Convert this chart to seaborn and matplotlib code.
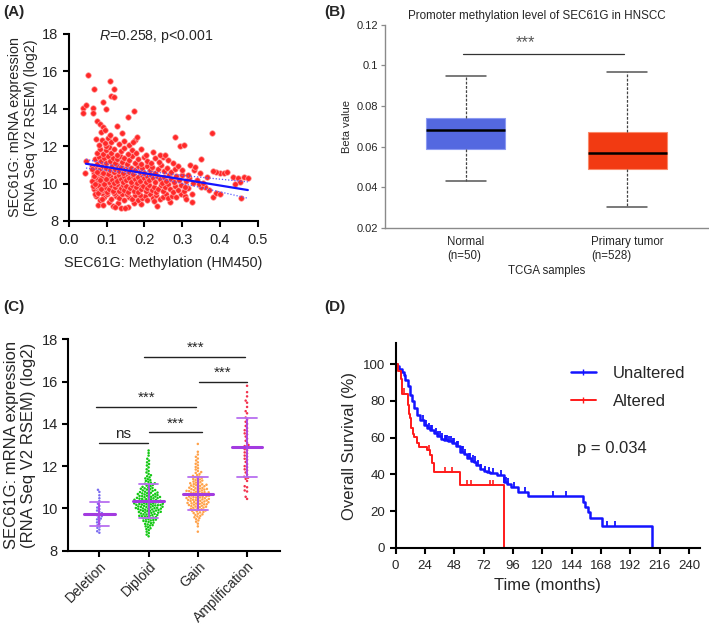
import numpy as np
import pandas as pd
import matplotlib
matplotlib.use('Agg')
import matplotlib.pyplot as plt
from matplotlib.lines import Line2D
import seaborn as sns

# ---------------- (A) methylation vs mRNA expression ----------------
# points, band by band (low -> high expression)
meth_x = [
    0.078, 0.089, 0.106, 0.117, 0.130, 0.137, 0.156, 0.148, 0.233, 0.269, 0.172, 0.121, 0.325, 0.190,
    0.072, 0.083, 0.094, 0.101, 0.112, 0.124, 0.133, 0.141, 0.147, 0.158, 0.166, 0.175, 0.183, 0.194,
    0.202, 0.206, 0.214, 0.222, 0.231, 0.240, 0.248, 0.257, 0.263, 0.272, 0.284, 0.296, 0.307, 0.088,
    0.118, 0.153, 0.188, 0.226,
    0.066, 0.071, 0.076, 0.081, 0.086, 0.091, 0.096, 0.102, 0.107, 0.112, 0.117, 0.122, 0.127, 0.132,
    0.137, 0.142, 0.147, 0.152, 0.157, 0.162, 0.167, 0.172, 0.177, 0.182, 0.187, 0.192, 0.197, 0.203,
    0.208, 0.213, 0.219, 0.225, 0.231, 0.237, 0.243, 0.249, 0.255, 0.262, 0.268, 0.275, 0.282, 0.290,
    0.298, 0.306, 0.316,
    0.065, 0.069, 0.074, 0.078, 0.083, 0.088, 0.092, 0.097, 0.101, 0.106, 0.110, 0.115, 0.119, 0.124,
    0.128, 0.133, 0.137, 0.142, 0.146, 0.151, 0.156, 0.160, 0.165, 0.170, 0.174, 0.179, 0.184, 0.188,
    0.193, 0.198, 0.203, 0.208, 0.213, 0.218, 0.223, 0.228, 0.234, 0.240, 0.246, 0.252, 0.258, 0.264,
    0.270, 0.277, 0.284, 0.292, 0.300, 0.309, 0.318, 0.328,
    0.062, 0.068, 0.073, 0.078, 0.083, 0.088, 0.093, 0.098, 0.103, 0.108, 0.113, 0.118, 0.123, 0.128,
    0.133, 0.138, 0.143, 0.148, 0.153, 0.159, 0.164, 0.170, 0.176, 0.182, 0.188, 0.194, 0.200, 0.207,
    0.214, 0.221, 0.228, 0.236, 0.244, 0.252, 0.261, 0.270, 0.280, 0.290, 0.300, 0.043,
    0.068, 0.074, 0.080, 0.086, 0.092, 0.098, 0.104, 0.110, 0.116, 0.122, 0.128, 0.134, 0.140, 0.146,
    0.153, 0.160, 0.167, 0.175, 0.183, 0.191, 0.199, 0.208, 0.218, 0.228, 0.238, 0.250, 0.262, 0.275,
    0.045, 0.240, 0.255,
    0.075, 0.083, 0.090, 0.097, 0.105, 0.112, 0.120, 0.128, 0.137, 0.146, 0.156, 0.166, 0.178, 0.190,
    0.205, 0.222, 0.098,
    0.080, 0.087, 0.095, 0.103, 0.112, 0.122, 0.133, 0.145, 0.160, 0.175, 0.170, 0.071,
    0.051, 0.108, 0.066, 0.119, 0.111, 0.120, 0.091, 0.038, 0.045, 0.063, 0.099, 0.172, 0.036, 0.064,
    0.157, 0.073, 0.126, 0.082, 0.091, 0.085, 0.280, 0.380, 0.294, 0.305, 0.351, 0.179, 0.095, 0.110,
    0.140,
    0.400, 0.410, 0.390, 0.382, 0.420, 0.435, 0.448, 0.452, 0.465, 0.474, 0.457, 0.382, 0.390, 0.400,
    0.370, 0.360, 0.350, 0.340, 0.365, 0.347, 0.316, 0.307, 0.330, 0.320, 0.335, 0.345, 0.325, 0.310,
    0.355, 0.440,
    0.061, 0.064, 0.067, 0.070, 0.073, 0.076, 0.079, 0.082, 0.085, 0.088, 0.062, 0.066, 0.070, 0.074,
    0.078, 0.082, 0.086, 0.090, 0.094, 0.098,
]
mrna_y = [
    8.86, 8.86, 8.99, 8.81, 8.95, 8.68, 8.77, 8.72, 8.82, 9.03, 8.98, 8.74, 9.00, 8.93,
    9.35, 9.12, 9.28, 9.42, 9.15, 9.33, 9.21, 9.45, 9.12, 9.30, 9.19, 9.40, 9.10, 9.21,
    9.36, 9.12, 9.44, 9.25, 9.38, 9.15, 9.30, 9.45, 9.22, 9.35, 9.28, 9.42, 9.35, 9.47,
    9.48, 9.46, 9.38, 9.08,
    9.72, 9.88, 9.60, 9.78, 9.95, 9.65, 9.83, 9.55, 9.72, 9.90, 9.62, 9.80, 9.97, 9.58,
    9.75, 9.90, 9.66, 9.85, 9.53, 9.74, 9.92, 9.62, 9.80, 9.55, 9.95, 9.70, 9.86, 9.58,
    9.78, 9.94, 9.66, 9.84, 9.55, 9.73, 9.92, 9.62, 9.80, 9.96, 9.70, 9.56, 9.85, 9.68,
    9.90, 9.60, 9.78,
    10.35, 10.12, 10.45, 10.25, 10.05, 10.38, 10.18, 10.48, 10.28, 10.08, 10.40, 10.20, 10.02, 10.33,
    10.15, 10.46, 10.26, 10.06, 10.38, 10.18, 10.48, 10.30, 10.10, 10.42, 10.22, 10.03, 10.35, 10.15,
    10.45, 10.27, 10.08, 10.39, 10.19, 10.47, 10.30, 10.10, 10.40, 10.22, 10.05, 10.36, 10.16, 10.44,
    10.26, 10.08, 10.38, 10.20, 10.45, 10.12, 10.30, 10.05,
    10.95, 10.65, 10.85, 10.55, 10.75, 10.95, 10.62, 10.82, 10.52, 10.72, 10.92, 10.60, 10.80, 10.98,
    10.66, 10.86, 10.55, 10.75, 10.94, 10.64, 10.84, 10.53, 10.73, 10.92, 10.62, 10.82, 10.55, 10.96,
    10.70, 10.88, 10.58, 10.78, 10.97, 10.65, 10.85, 10.60, 10.80, 10.95, 10.70, 10.54,
    11.30, 11.05, 11.42, 11.18, 11.35, 11.08, 11.45, 11.22, 11.38, 11.10, 11.30, 11.48, 11.15, 11.35,
    11.05, 11.25, 11.45, 11.12, 11.32, 11.06, 11.40, 11.20, 11.08, 11.35, 11.15, 11.42, 11.25, 11.10,
    11.23, 11.52, 11.50,
    11.65, 11.85, 11.58, 11.78, 11.95, 11.62, 11.82, 11.55, 11.72, 11.92, 11.60, 11.80, 11.65, 11.85,
    11.55, 11.70, 12.00,
    12.05, 12.30, 12.15, 12.45, 12.20, 12.38, 12.10, 12.25, 12.05, 12.35, 12.23, 12.40,
    15.79, 15.47, 15.03, 15.06, 14.69, 14.64, 14.37, 14.01, 14.19, 14.01, 13.96, 13.87, 13.78, 13.75,
    13.57, 13.34, 13.07, 13.20, 13.03, 12.77, 12.50, 12.72, 12.00, 12.06, 11.29, 12.50, 12.85, 12.60,
    12.70,
    10.58, 10.58, 10.63, 10.69, 10.63, 10.37, 10.28, 10.10, 10.37, 10.31, 9.21, 9.30, 9.48, 9.44,
    9.65, 9.80, 9.83, 10.19, 10.37, 10.54, 10.46, 9.83, 10.70, 11.00, 10.90, 9.95, 9.45, 9.20,
    10.05, 10.00,
    10.15, 9.85, 10.55, 9.45, 10.05, 9.90, 10.70, 9.62, 10.30, 9.15, 10.80, 10.42, 9.98, 10.62,
    9.50, 10.20, 9.70, 10.58, 9.95, 10.25,
]

# ---------------- (B) promoter methylation (min, Q1, median, Q3, max) ----------------
box_labels = ['Normal\n(n=50)', 'Primary tumor\n(n=528)']
normal_beta = [0.0432, 0.0589, 0.0681, 0.0740, 0.0949]
tumor_beta = [0.0302, 0.0490, 0.0571, 0.0671, 0.0968]

# ---------------- (C) expression by copy number ----------------
cna_groups = ['Deletion', 'Diploid', 'Gain', 'Amplification']
deletion_expr = [8.85, 8.92, 9.00, 9.08, 9.14, 9.20, 9.28, 9.34, 9.42, 9.48, 9.52, 9.58, 9.63, 9.68,
                 9.72, 9.78, 9.84, 9.90, 9.97, 10.04, 10.12, 10.22, 10.35, 10.48, 10.62, 10.78, 10.88]
diploid_expr = [8.68, 8.76, 8.83, 8.90, 8.97, 9.02, 9.06, 9.11, 9.15, 9.19,
                9.21, 9.24, 9.27, 9.30, 9.33, 9.36, 9.39,
                9.41, 9.43, 9.45, 9.47, 9.49, 9.51, 9.53, 9.55, 9.57, 9.59,
                9.60, 9.62, 9.63, 9.65, 9.66, 9.68, 9.69, 9.71, 9.72, 9.74, 9.76, 9.77, 9.79,
                9.80, 9.81, 9.83, 9.84, 9.85, 9.87, 9.88, 9.89, 9.90, 9.92, 9.93, 9.94, 9.95, 9.97, 9.98, 9.99,
                10.00, 10.01, 10.02, 10.03, 10.05, 10.06, 10.07, 10.08, 10.09, 10.11, 10.12, 10.13, 10.14,
                10.15, 10.16, 10.17, 10.18, 10.19,
                10.20, 10.21, 10.22, 10.23, 10.24, 10.25, 10.26, 10.28, 10.29, 10.30, 10.31, 10.32, 10.33,
                10.34, 10.35, 10.36, 10.37, 10.39,
                10.40, 10.41, 10.43, 10.44, 10.45, 10.46, 10.48, 10.49, 10.50, 10.51, 10.53, 10.54, 10.55,
                10.56, 10.58, 10.59,
                10.60, 10.62, 10.63, 10.65, 10.66, 10.68, 10.69, 10.71, 10.72, 10.74, 10.75, 10.77, 10.79,
                10.81, 10.83, 10.85, 10.87, 10.89, 10.91, 10.93, 10.95, 10.97, 10.99,
                11.02, 11.05, 11.08, 11.11, 11.14, 11.17, 11.19, 11.22, 11.26, 11.30, 11.34, 11.38,
                11.42, 11.47, 11.52, 11.57, 11.63, 11.70, 11.77, 11.85, 11.94,
                12.03, 12.10, 12.18, 12.26, 12.35, 12.50, 12.62, 12.74]
gain_expr = [8.90, 9.15, 9.28, 9.37, 9.43, 9.49, 9.54, 9.58, 9.62, 9.65, 9.69, 9.72, 9.75, 9.78,
             9.81, 9.83, 9.86, 9.88, 9.90, 9.92, 9.94, 9.96, 9.98,
             10.01, 10.03, 10.04, 10.06, 10.08, 10.09, 10.11, 10.13, 10.14, 10.16, 10.18, 10.19,
             10.20, 10.22, 10.23, 10.24, 10.26, 10.27, 10.29, 10.30, 10.32, 10.33, 10.35, 10.36, 10.38, 10.39,
             10.40, 10.41, 10.43, 10.44, 10.45, 10.47, 10.48, 10.49, 10.51, 10.52, 10.53, 10.55, 10.56,
             10.57, 10.59,
             10.60, 10.61, 10.63, 10.64, 10.65, 10.67, 10.68, 10.69, 10.71, 10.72, 10.73, 10.75, 10.76,
             10.77, 10.79,
             10.80, 10.82, 10.83, 10.85, 10.86, 10.88, 10.89, 10.91, 10.92, 10.94, 10.95, 10.97, 10.98,
             11.01, 11.03, 11.05, 11.07, 11.08, 11.10, 11.12, 11.14, 11.15, 11.17, 11.19,
             11.22, 11.24, 11.27, 11.29, 11.32, 11.34, 11.37, 11.39,
             11.42, 11.45, 11.48, 11.51, 11.54, 11.58, 11.63, 11.68, 11.72, 11.77,
             11.84, 11.90, 11.96, 12.04, 12.11, 12.18, 12.27, 12.36, 12.44, 12.55, 12.68, 13.05]
amp_expr = [10.45, 10.55, 10.80, 10.85, 11.00, 11.05, 11.30, 11.40, 11.45, 11.50, 11.60, 11.70,
            11.80, 11.85, 11.95, 12.00, 12.10, 12.20, 12.30, 12.35, 12.45, 12.50, 12.60, 12.65,
            12.75, 12.80, 12.90, 12.95, 13.00, 13.10, 13.20, 13.30, 13.40, 13.50, 13.55, 13.65,
            13.70, 13.80, 13.90, 14.00, 14.10, 14.20, 14.30, 14.50, 14.60, 14.80, 15.00, 15.10,
            15.30, 15.50, 15.80]
cna_colors = ['#7B6CF0', '#14C814', '#FFA24A', '#F2324E']

# ---------------- (D) Kaplan-Meier ----------------
unaltered_t = [0, 1.5, 3, 5, 6.6, 8, 10, 12, 13.5, 15, 17.5, 20, 23, 26, 28, 31, 34, 37, 39.3, 43,
               46, 49, 53, 56, 58.4, 62, 64, 66, 69, 72, 75, 77.6, 83, 88.5, 91, 94.7, 100, 108,
               153, 154.8, 157.6, 159, 168.5, 209.4]
unaltered_s = [100, 99, 97.5, 95.5, 94, 91.5, 88, 83, 80, 76, 72.3, 69.5, 67, 65, 64, 62.3, 61, 59.5,
               58.7, 58, 57, 55.5, 52.4, 51, 48.7, 47.5, 47, 45, 43, 42, 41.2, 40.6, 39.7, 36, 35,
               33, 30.6, 28.4, 25, 22.4, 19.8, 16.2, 12, 0]
unaltered_cens = [22, 25, 27, 29, 30, 33, 35, 36, 38, 40, 41, 42, 44, 45, 47, 48, 50, 51, 54, 55,
                  57, 60, 61, 63, 65, 67, 70, 73, 76, 80, 86, 89, 90, 92, 97, 105.7, 128.9, 139,
                  172.6, 179.4]
altered_t = [0, 2, 4, 5.2, 9.8, 11, 11.5, 12.6, 14, 14.8, 17.5, 18.8, 25.7, 28.4, 29.7, 31.7, 53, 89]
altered_s = [100, 96, 92, 84, 77.7, 73, 70.5, 65, 62, 60.5, 56.9, 55, 53.3, 50.5, 46, 41.2, 34.2, 0]
altered_cens = [7, 27, 40.7, 46.2, 58.4, 61.7, 77.6, 79.7]


def surv_at(t, times, surv):
    i = np.searchsorted(times, t, side='right') - 1
    return surv[i]


def prism_axes(ax, lw=1.5):
    sns.despine(ax=ax)
    for s in ['left', 'bottom']:
        ax.spines[s].set_linewidth(lw)
        ax.spines[s].set_color('black')
    ax.tick_params(direction='out', length=4, width=lw, color='black')


sns.set_theme(style='ticks')
plt.rcParams['font.family'] = ['Liberation Sans', 'DejaVu Sans']
plt.rcParams['mathtext.fontset'] = 'custom'
plt.rcParams['mathtext.rm'] = 'Liberation Sans'
plt.rcParams['mathtext.it'] = 'Liberation Sans:italic'

fig = plt.figure(figsize=(7.09, 6.28), dpi=100)
axA = fig.add_axes([0.0973, 0.6481, 0.2661, 0.2982])
axB = fig.add_axes([0.543, 0.637, 0.4556, 0.3237])
axC = fig.add_axes([0.0964, 0.1231, 0.2986, 0.3366])
axD = fig.add_axes([0.558, 0.1274, 0.4288, 0.3259])

# ---- A
sns.scatterplot(x=meth_x, y=mrna_y, s=16, color='#FF2828', edgecolor='#FFA0A0',
                linewidth=0.5, ax=axA, zorder=2)
xs = np.asarray(meth_x)
ys = np.asarray(mrna_y)
slope, inter = np.polyfit(xs, ys, 1)
n = len(xs)
resid = ys - (slope * xs + inter)
se = np.sqrt(np.sum(resid ** 2) / (n - 2))
xf = np.linspace(0.045, xs.max(), 100)
yf = slope * xf + inter
band = 1.97 * se * np.sqrt(1 / n + (xf - xs.mean()) ** 2 / np.sum((xs - xs.mean()) ** 2))
axA.plot(xf, yf, color='#1515FF', lw=1.6, zorder=3)
axA.plot(xf, yf + band, color='#5A5AFF', lw=0.9, ls=(0, (1, 1.5)), zorder=3)
axA.plot(xf, yf - band, color='#5A5AFF', lw=0.9, ls=(0, (1, 1.5)), zorder=3)
axA.set_xlim(0, 0.5)
axA.set_ylim(8, 18)
axA.set_xticks([0, 0.1, 0.2, 0.3, 0.4, 0.5])
axA.set_xticklabels(['0.0', '0.1', '0.2', '0.3', '0.4', '0.5'])
axA.set_yticks([8, 10, 12, 14, 16, 18])
prism_axes(axA)
axA.tick_params(labelsize=10.5)
axA.tick_params(axis='x', pad=5)
axA.set_xlabel('SEC61G: Methylation (HM450)', fontsize=10.4, labelpad=6)
axA.set_ylabel('SEC61G: mRNA expression\n(RNA Seq V2 RSEM) (log2)', fontsize=10.4, labelpad=3)
axA.text(0.231, 17.85, r'$\it{R}$=0.258, p<0.001', ha='center', va='center', fontsize=10.2)

# ---- B
box_df = pd.DataFrame({
    'group': [box_labels[0]] * len(normal_beta) + [box_labels[1]] * len(tumor_beta),
    'beta': normal_beta + tumor_beta,
})
sns.boxplot(data=box_df, x='group', y='beta', hue='group', order=box_labels,
            palette=['#5468E0', '#F23A12'], saturation=1, width=0.49, whis=(0, 100),
            showfliers=False, legend=False, ax=axB,
            medianprops=dict(color='black', lw=1.8),
            whiskerprops=dict(color='#444444', lw=0.9, ls=(0, (2.2, 1.2))),
            capprops=dict(color='#555555', lw=1.1))
for patch, ec in zip(axB.patches, ['#8C9AF2', '#FA8A6A']):
    patch.set_edgecolor(ec)
    patch.set_linewidth(0.8)
axB.set_xlim(-0.5, 1.5)
axB.set_ylim(0.02, 0.12)
axB.set_yticks([0.02, 0.04, 0.06, 0.08, 0.1, 0.12])
axB.set_yticklabels(['0.02', '0.04', '0.06', '0.08', '0.1', '0.12'])
sns.despine(ax=axB)
for s in ['left', 'bottom']:
    axB.spines[s].set_color('#8A8A8A')
    axB.spines[s].set_linewidth(1.0)
axB.tick_params(axis='y', direction='out', length=3, width=0.9, color='#8A8A8A', labelsize=8, pad=2)
axB.tick_params(axis='x', length=0, labelsize=8.3, pad=6)
for lab in axB.get_xticklabels():
    lab.set_multialignment('left')
axB.set_xlabel('TCGA samples', fontsize=8.3, labelpad=2)
axB.set_ylabel('Beta value', fontsize=8, labelpad=3)
axB.text(0.47, 1.045, 'Promoter methylation level of SEC61G in HNSCC', transform=axB.transAxes,
         ha='center', va='center', fontsize=8.4)
axB.plot([-0.02, 0.98], [0.1054, 0.1054], color='#333333', lw=0.9)
axB.text(0.37, 0.1114, '***', ha='center', va='center', fontsize=12, color='#555555')

# ---- C
cna_df = pd.DataFrame({
    'group': (['Deletion'] * len(deletion_expr) + ['Diploid'] * len(diploid_expr)
              + ['Gain'] * len(gain_expr) + ['Amplification'] * len(amp_expr)),
    'expr': deletion_expr + diploid_expr + gain_expr + amp_expr,
})
sns.swarmplot(data=cna_df, x='group', y='expr', hue='group', order=cna_groups,
              palette=cna_colors, size=1.8, legend=False, ax=axC, zorder=2)
for i, vals in enumerate([deletion_expr, diploid_expr, gain_expr, amp_expr]):
    m = np.mean(vals)
    sd = np.std(vals, ddof=1)
    axC.plot([i - 0.31, i + 0.31], [m, m], color='#A33BE0', lw=2.2, zorder=4)
    axC.plot([i, i], [m - sd, m + sd], color='#A846E6', lw=1.3, zorder=4)
    for yy in (m - sd, m + sd):
        axC.plot([i - 0.2, i + 0.2], [yy, yy], color='#B86EF0', lw=1.3, zorder=4)

sig_lines = [(0.0, 0.99, 13.1, 'ns', 0.49), (1.01, 2.08, 13.6, '***', 1.55),
             (-0.07, 1.97, 14.8, '***', 0.95), (2.03, 3.0, 16.0, '***', 2.51),
             (0.91, 2.96, 17.17, '***', 1.95)]
for x0, x1, yy, txt, xt in sig_lines:
    axC.plot([x0, x1], [yy, yy], color='#222222', lw=1.0, clip_on=False)
    axC.text(xt, yy + 0.42, txt, ha='center', va='center', fontsize=11)
axC.set_xlim(-0.63, 3.67)
axC.set_ylim(8, 18)
axC.set_yticks([8, 10, 12, 14, 16, 18])
prism_axes(axC)
axC.tick_params(labelsize=10.5)
axC.set_xticks(range(4))
axC.set_xticklabels(cna_groups, rotation=45, ha='right', rotation_mode='anchor')
axC.tick_params(axis='x', labelsize=10, pad=2)
axC.set_xlabel('')
axC.set_ylabel('SEC61G: mRNA expression\n(RNA Seq V2 RSEM) (log2)', fontsize=12, labelpad=4)

# ---- D
sns.lineplot(x=unaltered_t, y=unaltered_s, drawstyle='steps-post', estimator=None,
             color='#1414FF', lw=1.8, ax=axD)
sns.lineplot(x=altered_t, y=altered_s, drawstyle='steps-post', estimator=None,
             color='#FF1A1A', lw=1.4, ax=axD)
axD.plot(unaltered_cens, [surv_at(t, unaltered_t, unaltered_s) + 1.2 for t in unaltered_cens],
         ls='none', marker='|', ms=4, mew=1.3, color='#1414FF')
axD.plot(altered_cens, [surv_at(t, altered_t, altered_s) + 1.2 for t in altered_cens],
         ls='none', marker='|', ms=4, mew=1.2, color='#FF1A1A')
axD.set_xlim(0, 248.7)
axD.set_ylim(0, 111.3)
axD.set_xticks(range(0, 241, 24))
axD.set_yticks(range(0, 101, 20))
prism_axes(axD)
axD.tick_params(labelsize=9.5)
axD.tick_params(axis='x', pad=5)
axD.set_xlabel('Time (months)', fontsize=12, labelpad=4)
axD.set_ylabel('Overall Survival (%)', fontsize=12, labelpad=4)
handles = [Line2D([0], [0], color='#1414FF', lw=1.8, marker='|', ms=4),
           Line2D([0], [0], color='#FF1A1A', lw=1.4, marker='|', ms=4)]
axD.legend(handles, ['Unaltered', 'Altered'], loc='center left', bbox_to_anchor=(0.527, 0.785),
           frameon=False, fontsize=12, handlelength=1.5, handletextpad=1.0, labelspacing=0.75)
axD.text(0.597, 0.487, 'p = 0.034', transform=axD.transAxes, ha='left', va='center', fontsize=12)

# panel letters
for x, y, lab in [(0.004, 0.992, '(A)'), (0.458, 0.992, '(B)'),
                  (0.004, 0.522, '(C)'), (0.458, 0.522, '(D)')]:
    fig.text(x, y, lab, ha='left', va='top', fontsize=11, fontweight='bold')

fig.savefig('out.png', dpi=100)
